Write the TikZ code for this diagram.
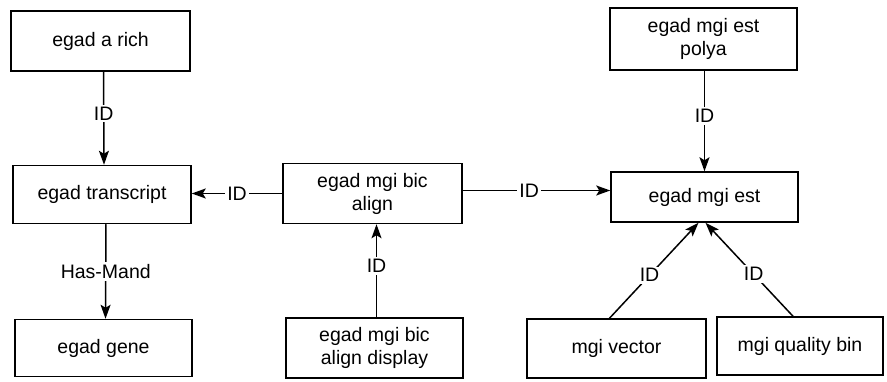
\documentclass[tikz,border=0pt]{standalone}
\usepackage{fontspec}
\setmainfont{Liberation Sans}
\usetikzlibrary{arrows.meta}
\tikzset{
  box/.style={draw, line width=1.5pt, rectangle, inner sep=0pt, align=center, font=\fontsize{19.5}{23}\selectfont},
  conn/.style={line width=1.5pt, -{Stealth[length=14pt,width=10pt,inset=3pt]}},
  lab/.style={fill=white, inner sep=2pt, font=\fontsize{19.5}{23}\selectfont}
}
\begin{document}
\begin{tikzpicture}[x=1pt,y=-1pt]
\useasboundingbox (0,0) rectangle (887,382);
\node[box, minimum width=179pt, minimum height=60pt] (rich) at (100.5,41) {egad a rich};
\node[box, minimum width=178pt, minimum height=58pt] (trans) at (102,194.5) {egad transcript};
\node[box, minimum width=177pt, minimum height=57pt] (gene) at (103.5,348) {egad gene};
\node[box, minimum width=179pt, minimum height=60pt] (align) at (372.5,193.5) {egad mgi bic\\align};
\node[box, minimum width=177pt, minimum height=60pt] (display) at (374.5,348) {egad mgi bic\\align display};
\node[box, minimum width=187pt, minimum height=62pt] (polya) at (703.5,39) {egad mgi est\\polya};
\node[box, minimum width=187pt, minimum height=50pt] (est) at (704.5,197) {egad mgi est};
\node[box, minimum width=179pt, minimum height=59pt] (vector) at (616.5,348.5) {mgi vector};
\node[box, minimum width=166pt, minimum height=58pt] (qbin) at (800,346) {mgi quality bin};

\draw[conn] ([xshift=3pt]rich.south) -- node[lab, pos=0.45] {ID} ([xshift=2pt]trans.north);
\draw[conn] ([xshift=4pt]trans.south) -- node[lab, pos=0.5] {Has-Mand} ([xshift=2pt]gene.north);
\draw[conn] (align.west) -- node[lab] {ID} (align.west -| trans.east);
\draw[conn] ([yshift=3pt]align.east) -- node[lab, pos=0.45] {ID} ([yshift=3pt]align.east -| est.west);
\draw[conn] ([xshift=2pt]display.north) -- node[lab, pos=0.55] {ID} ([xshift=4pt]align.south);
\draw[conn] (polya.south -| est.north) -- node[lab, pos=0.45] {ID} (est.north);
\draw[conn] ([xshift=-7pt]vector.north) -- node[lab, pos=0.45] {ID} ([xshift=-6pt]est.south);
\draw[conn] ([xshift=-7pt]qbin.north) -- node[lab, pos=0.45] {ID} ([xshift=1pt]est.south);
\end{tikzpicture}
\end{document}
